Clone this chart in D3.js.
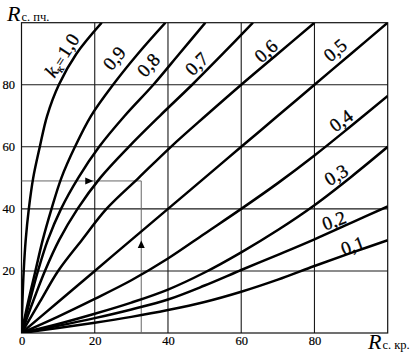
<!DOCTYPE html>
<html><head><meta charset="utf-8">
<script src="https://cdn.jsdelivr.net/npm/d3@7"></script>
<style>
body{margin:0;background:#fff;}
svg{display:block;}
text{font-family:"Liberation Serif","Times New Roman",serif;fill:#000;}
</style>
</head><body>
<svg id="c" width="418" height="356"></svg>
<script>
// ---- data ----
const yLevels = [0,10,20,30,40,50,60,70,80,90,100];   // R с.пч. levels for steep curves
const xLevels = [0,10,20,30,40,50,60,70,80,90,100];   // R с.кр. levels for flat curves
// steep curves: R с.кр. at each yLevel
const xK10 = [0,0.25,0.6,1.15,2.0,3.2,5.0,7.0,10.2,15.0,21.9];
const xK09 = [0,1.8,3.8,5.8,8.2,10.9,14.6,19.0,25.0,31.8,39.3];
const xK08 = [0,2.2,4.5,7.2,10.8,15.5,21.2,28.2,36.0,43.1,50.2];
const xK07 = [0,3.1,6.4,10.3,15.3,21.5,29.3,37.8,46.6,55.0,63.2];
const xK06 = [0,5.0,10.0,16.5,23.2,32.0,40.8,50.3,60.0,70.0,80.0];
// flat curves: R с.пч. at each xLevel
const yK05 = [0,10,20,30,40,50,60,70,80,90,100];
const yK04 = [0,5.3,11.0,17.0,24.0,32.0,40.0,48.3,57.2,66.7,76.4];
const yK03 = [0,2.9,6.2,9.8,14.0,19.5,26.0,33.2,41.2,50.3,60.0];
const yK02 = [0,2.3,4.8,7.6,10.8,15.3,20.3,25.2,30.2,35.5,40.8];
const yK01 = [0,1.6,3.3,5.2,7.4,10.0,13.3,17.2,21.6,25.8,29.9];
const kLabels = ["1,0","0,9","0,8","0,7","0,6","0,5","0,4","0,3","0,2","0,1"];
const xTicks = [0,20,40,60,80];
const yTicks = [20,40,60,80];
const gridX = [20,40,60,80];
const gridY = [20,40,60,80];
// worked example (reading line)
const exampleX = 32.7;
const exampleY = 49;

// ---- layout ----
const svg = d3.select("#c");
const x = d3.scaleLinear().domain([0,100]).range([21.5,387.7]);
const y = d3.scaleLinear().domain([0,100]).range([333,22.7]);

const curves = [
  yLevels.map((v,i)=>[xK10[i],v]),
  yLevels.map((v,i)=>[xK09[i],v]),
  yLevels.map((v,i)=>[xK08[i],v]),
  yLevels.map((v,i)=>[xK07[i],v]),
  yLevels.map((v,i)=>[xK06[i],v]),
  xLevels.map((v,i)=>[v,yK05[i]]),
  xLevels.map((v,i)=>[v,yK04[i]]),
  xLevels.map((v,i)=>[v,yK03[i]]),
  xLevels.map((v,i)=>[v,yK02[i]]),
  xLevels.map((v,i)=>[v,yK01[i]])
];

// grid
const g = svg.append("g");
g.selectAll(".gx").data(gridX).join("line")
  .attr("x1",d=>x(d)).attr("x2",d=>x(d)).attr("y1",y(0)).attr("y2",y(100))
  .attr("stroke","#1a1a1a").attr("stroke-width",1.1);
g.selectAll(".gy").data(gridY).join("line")
  .attr("y1",d=>y(d)).attr("y2",d=>y(d)).attr("x1",x(0)).attr("x2",x(100))
  .attr("stroke","#1a1a1a").attr("stroke-width",1.1);
g.append("rect").attr("x",x(0)).attr("y",y(100))
  .attr("width",x(100)-x(0)).attr("height",y(0)-y(100))
  .attr("fill","none").attr("stroke","#111").attr("stroke-width",1.2);

// reading lines
g.append("path")
  .attr("d",`M${x(0)},${y(exampleY)}H${x(exampleX)}V${y(0)}`)
  .attr("fill","none").attr("stroke","#666").attr("stroke-width",1);
const ax = x(18.5), ay = y(exampleY);
g.append("path").attr("d",`M${ax+4},${ay}L${ax-4},${ay-3.5}L${ax-4},${ay+3.5}Z`).attr("fill","#000");
const ux = x(exampleX), uy = y(28.5);
g.append("path").attr("d",`M${ux},${uy-4}L${ux-3.5},${uy+3.5}L${ux+3.5},${uy+3.5}Z`).attr("fill","#000");

// curves
svg.append("clipPath").attr("id","clip").append("rect")
  .attr("x",x(0)).attr("y",y(100)).attr("width",x(100)-x(0)).attr("height",y(0)-y(100));
const line = d3.line().x(d=>x(d[0])).y(d=>y(d[1])).curve(d3.curveCatmullRom.alpha(0.5));
svg.append("g").attr("clip-path","url(#clip)")
  .selectAll("path").data(curves).join("path")
  .attr("d",line).attr("fill","none").attr("stroke","#000").attr("stroke-width",2.5)
  .attr("stroke-linejoin","round");

// axes tick labels
const xa = svg.append("g").attr("transform",`translate(0,${y(0)})`)
  .call(d3.axisBottom(x).tickValues(xTicks).tickSize(0).tickPadding(3).tickFormat(d3.format("d")));
xa.select(".domain").remove();
xa.selectAll("text").attr("font-family","Liberation Serif").attr("font-size",12.5)
  .attr("stroke","#000").attr("stroke-width",0.2);
const ya = svg.append("g").attr("transform",`translate(${x(0)},0)`)
  .call(d3.axisLeft(y).tickValues(yTicks).tickSize(0).tickPadding(6.5).tickFormat(d3.format("d")));
ya.select(".domain").remove();
ya.selectAll("text").attr("font-family","Liberation Serif").attr("font-size",12.5)
  .attr("stroke","#000").attr("stroke-width",0.2);

// axis titles
const ty = svg.append("text").attr("x",7).attr("y",21);
ty.append("tspan").attr("font-style","italic").attr("font-size",22).text("R");
ty.append("tspan").attr("font-size",12.5).attr("dx",1).text("с. пч.");
const tx = svg.append("text").attr("x",368).attr("y",349);
tx.append("tspan").attr("font-style","italic").attr("font-size",22).text("R");
tx.append("tspan").attr("font-size",12.5).attr("dx",1).text("с. кр.");

// curve labels (data-space anchor, rotation)
const labelPos = [[11.0,89.5,-57],[25.3,88.6,-50],[34.6,86.4,-48],[47.8,86.8,-45],[66.7,90.9,-42],
                  [85.6,91.2,-40],[87.2,68.5,-36],[85.9,51.0,-31],[85.3,36.3,-20],[90.4,28.2,-20]];
kLabels.forEach((t,i)=>{
  const [lx,ly,rot] = labelPos[i];
  const el = svg.append("text")
    .attr("transform",`translate(${x(lx)},${y(ly)}) rotate(${rot})`)
    .attr("text-anchor","middle").attr("dy","0.35em").attr("font-size",19)
    .attr("stroke","#000").attr("stroke-width",0.3);
  if(i===0){
    el.append("tspan").attr("font-style","italic").text("k");
    el.append("tspan").attr("font-size",11).attr("dy",3).text("к");
    el.append("tspan").attr("font-size",14).attr("dy",-3).text("=");
    el.append("tspan").attr("dx",2).text(t);
  } else {
    el.text(t);
  }
});
</script>
</body></html>
